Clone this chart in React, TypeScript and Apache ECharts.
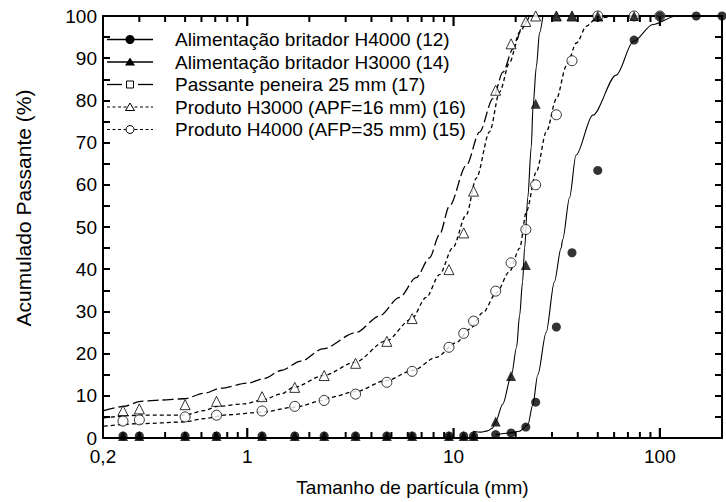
import React, { useEffect, useRef } from "react";
import * as echarts from "echarts";

const FONT = "'Liberation Sans', Arial, Helvetica, sans-serif";

const sieveSizes = [0.25, 0.3, 0.5, 0.71, 1.18, 1.7, 2.36, 3.35, 4.75, 6.3, 9.5, 11.2, 12.5, 16, 19, 22.4, 25, 31.5, 37.5, 50, 75, 100, 150, 200];

const seriesNames = [
  "Alimentação britador H4000 (12)",
  "Alimentação britador H3000 (14)",
  "Passante peneira 25 mm (17)",
  "Produto H3000 (APF=16 mm) (16)",
  "Produto H4000 (AFP=35 mm) (15)",
];

const feedH4000 = [0.5, 0.5, 0.5, 0.5, 0.5, 0.5, 0.5, 0.5, 0.5, 0.5, 0.5, 0.5, 0.5, 0.8, 1.2, 2.6, 8.5, 26.3, 43.9, 63.4, 94.3, 100, 100, 100];
const feedH3000 = [0.5, 0.5, 0.5, 0.5, 0.5, 0.5, 0.5, 0.5, 0.5, 0.5, 0.5, 0.5, 0.5, 3.9, 14.7, 41.0, 79.2, 100, 100, 100, 100];
const prodH3000 = [6.5, 6.9, 7.9, 8.7, 9.8, 12.0, 14.8, 17.7, 22.9, 28.3, 39.9, 48.6, 58.5, 82.4, 93.4, 98.7, 100, 100, 100, 100];
const prodH4000 = [4.0, 4.3, 5.0, 5.4, 6.4, 7.5, 8.9, 10.4, 13.2, 15.8, 21.5, 24.8, 27.7, 34.8, 41.5, 49.4, 60.0, 76.6, 89.4, 100, 100, 100];

const fitFeedH4000X = [16.0, 18.6, 20.8, 22.9, 24.2, 25.6, 28.1, 30.8, 33.2, 33.8, 36.5, 39.2, 47.3, 61.4, 74.5, 92.5, 120, 156];
const fitFeedH4000Y = [0.8, 1.2, 1.6, 3.1, 7.8, 15, 25, 37, 45, 47, 57, 67, 76.5, 86, 94, 98, 100, 100];

const fitFeedH3000X = [12.4, 13.6, 14.6, 15.5, 16.0, 17.3, 19.1, 20.2, 20.9, 21.6, 22.1, 22.9, 23.8, 24.3, 25.2, 26.1, 27.1];
const fitFeedH3000Y = [1.6, 1.4, 1.7, 2.4, 3.9, 8, 15, 21.5, 29, 37, 45, 57, 69, 79, 88, 96, 100];

const fitPassanteX = [0.202, 0.253, 0.305, 0.381, 0.495, 0.618, 0.745, 1.003, 1.209, 1.458, 1.823, 2.32, 3.37, 4.37, 5.47, 6.59, 7.65, 8.55, 9.56, 11.53, 13.37, 15.51, 17.35, 19.41, 21.7, 23.39];
const fitPassanteY = [6.5, 7.5, 8.7, 9.0, 9.3, 10.6, 11.8, 13.0, 14.1, 16, 18.2, 21.1, 25, 28.9, 33.3, 38, 42.7, 48.2, 55, 64.6, 72.5, 80.4, 86.7, 92.2, 97.7, 100];

const fitProdH3000X = [0.202, 0.305, 0.495, 0.618, 0.718, 0.967, 1.166, 1.458, 1.678, 2.346, 3.307, 4.713, 6.233, 7.37, 8.551, 9.888, 11.53, 12.89, 14.96, 16.72, 18.7, 20.91, 22.95];
const fitProdH3000Y = [4.8, 5.4, 5.4, 6.5, 7.5, 8.1, 8.9, 10.4, 12, 14.8, 17.9, 23, 28.1, 33.3, 38.7, 45, 52.9, 61.6, 72.6, 82, 89, 96.2, 100];

const fitProdH4000X = [0.202, 0.305, 0.495, 0.618, 0.802, 1.166, 1.691, 2.346, 2.501, 3.345, 4.713, 6.345, 8.241, 10.31, 11.96, 13.88, 16.12, 18.7, 20.91, 22.54, 25.2, 28.18, 31.52, 35.25, 39.41, 44.09, 49.29, 60.47];
const fitProdH4000Y = [2.8, 3.4, 3.8, 4.6, 5.5, 6.1, 7.3, 8.9, 9.6, 11, 13.6, 16, 19.1, 22.6, 25.8, 29.7, 34.4, 39.5, 45, 53.7, 63.1, 72.6, 80.4, 88.2, 93.6, 97.6, 99.5, 100];

const xMajorTicks = [1, 10, 100];
const xMinorTicks = [0.3, 0.4, 0.5, 0.6, 0.7, 0.8, 0.9, 2, 3, 4, 5, 6, 7, 8, 9, 20, 30, 40, 50, 60, 70, 80, 90];
const xLabelValues = [0.2, 1, 10, 100];
const yTicks = [5, 10, 15, 20, 25, 30, 35, 40, 45, 50, 55, 60, 65, 70, 75, 80, 85, 90, 95];

const X_MIN = 0.2;
const X_MAX = 200;
const Y_MIN = 0;
const Y_MAX = 100;

const pairs = (xs: number[], ys: number[]) => ys.map((y, i) => [xs[i], y]);

function makeXAxis(position: "top" | "bottom", showLabel: boolean): any {
  return {
    type: "log",
    logBase: 10,
    min: X_MIN,
    max: X_MAX,
    position,
    axisLine: { show: true, onZero: false, lineStyle: { color: "#000", width: 2 } },
    axisTick: { show: false },
    minorTick: { show: false },
    axisLabel: showLabel
      ? {
          show: true,
          customValues: xLabelValues,
          formatter: (v: number) => (Math.abs(v - 0.2) < 1e-6 ? "0,2" : String(Math.round(v))),
          fontSize: 19,
          fontFamily: FONT,
          color: "#000",
          margin: 9,
        }
      : { show: false },
    splitLine: { show: false },
    minorSplitLine: { show: false },
  };
}

function makeYAxis(position: "left" | "right", showLabel: boolean): any {
  return {
    type: "value",
    min: Y_MIN,
    max: Y_MAX,
    interval: 10,
    position,
    axisLine: { show: true, onZero: false, lineStyle: { color: "#000", width: 2 } },
    axisTick: { show: true, inside: true, length: 7, lineStyle: { color: "#000", width: 2 } },
    minorTick: { show: true, splitNumber: 2, length: 7, lineStyle: { color: "#000", width: 2 } },
    axisLabel: showLabel
      ? { show: true, fontSize: 19, fontFamily: FONT, color: "#000", margin: 6, padding: [7, 0, 0, 0] }
      : { show: false },
    splitLine: { show: false },
  };
}

function legendGraphics(): any[] {
  const els: any[] = [];
  const x1 = 107, x2 = 153, cx = 130, tx = 175;
  seriesNames.forEach((name, i) => {
    const y = 39.5 + i * 22.5;
    if (i === 0 || i === 1) {
      els.push({ type: "line", shape: { x1, y1: y, x2, y2: y }, style: { stroke: "#000", lineWidth: 1.3 } });
    } else if (i === 2) {
      els.push({ type: "line", shape: { x1, y1: y, x2: 122, y2: y }, style: { stroke: "#000", lineWidth: 1.3 } });
      els.push({ type: "line", shape: { x1: 138, y1: y, x2, y2: y }, style: { stroke: "#000", lineWidth: 1.3 } });
    } else {
      els.push({ type: "line", shape: { x1, y1: y, x2, y2: y }, style: { stroke: "#000", lineWidth: 1.2, lineDash: [3, 2.5] } });
    }
    if (i === 0) {
      els.push({ type: "circle", shape: { cx, cy: y, r: 4.5 }, style: { fill: "#000" } });
    } else if (i === 1) {
      els.push({ type: "polygon", shape: { points: [[cx, y - 4.5], [cx - 5, y + 3.5], [cx + 5, y + 3.5]] }, style: { fill: "#000" } });
    } else if (i === 2) {
      els.push({ type: "rect", shape: { x: cx - 3.5, y: y - 3.5, width: 7, height: 7 }, style: { fill: "#fff", stroke: "#000", lineWidth: 1 } });
    } else if (i === 3) {
      els.push({ type: "polygon", shape: { points: [[cx, y - 4], [cx - 4.5, y + 3.5], [cx + 4.5, y + 3.5]] }, style: { fill: "#fff", stroke: "#000", lineWidth: 1 } });
    } else {
      els.push({ type: "circle", shape: { cx, cy: y, r: 4 }, style: { fill: "#fff", stroke: "#000", lineWidth: 1 } });
    }
    els.push({
      type: "text",
      x: tx,
      y,
      style: { text: name, fontSize: 19, fontFamily: FONT, fill: "#000", verticalAlign: "middle", textVerticalAlign: "middle" },
    });
  });
  return els;
}

const yTitleGraphic = {
  type: "text",
  x: 23,
  y: 208,
  rotation: Math.PI / 2,
  style: {
    text: "Acumulado Passante (%)",
    fontSize: 21,
    fontFamily: FONT,
    fill: "#000",
    align: "center",
    verticalAlign: "middle",
    textAlign: "center",
    textVerticalAlign: "middle",
  },
};

function tickSeries(data: number[][], size: number[], offset: number[]): any {
  return {
    type: "scatter",
    xAxisIndex: 0,
    yAxisIndex: 0,
    silent: true,
    clip: false,
    z: 6,
    symbol: "rect",
    symbolSize: size,
    symbolOffset: offset,
    itemStyle: { color: "#000", borderWidth: 0, opacity: 1 },
    data,
  };
}

export default function App() {
  const ref = useRef<HTMLDivElement>(null);

  useEffect(() => {
    if (!ref.current) return;
    const chart = echarts.init(ref.current, undefined, { renderer: "svg" });

    const scatterBase = { type: "scatter", xAxisIndex: 0, yAxisIndex: 0, z: 4, clip: false, silent: true };
    const lineBase = {
      type: "line",
      xAxisIndex: 0,
      yAxisIndex: 0,
      z: 3,
      symbol: "none",
      showSymbol: false,
      smooth: 0.3,
      smoothMonotone: "x",
      clip: false,
      silent: true,
    };

    const option: any = {
      animation: false,
      backgroundColor: "#fff",
      textStyle: { fontFamily: FONT },
      grid: { left: 103, right: 4, top: 16, bottom: 61, containLabel: false },
      xAxis: [
        { ...makeXAxis("bottom", true), name: "Tamanho de partícula (mm)", nameLocation: "middle", nameGap: 40, nameTextStyle: { fontSize: 19, fontFamily: FONT, color: "#000" } },
        makeXAxis("top", false),
      ],
      yAxis: [makeYAxis("left", true), makeYAxis("right", false)],
      graphic: [yTitleGraphic, ...legendGraphics()],
      series: [
        tickSeries(xMajorTicks.map((v) => [v, Y_MIN]), [2.2, 10], [0, -5]),
        tickSeries(xMajorTicks.map((v) => [v, Y_MAX]), [2.2, 10], [0, 5]),
        tickSeries(xMinorTicks.map((v) => [v, Y_MIN]), [2, 6], [0, -3]),
        tickSeries(xMinorTicks.map((v) => [v, Y_MAX]), [2, 6], [0, 3]),
        { ...lineBase, name: seriesNames[0] + " ajuste", data: pairs(fitFeedH4000X, fitFeedH4000Y), lineStyle: { color: "#000", width: 1.1, type: "solid" } },
        { ...lineBase, name: seriesNames[1] + " ajuste", data: pairs(fitFeedH3000X, fitFeedH3000Y), lineStyle: { color: "#000", width: 1.1, type: "solid" } },
        { ...lineBase, name: seriesNames[2], data: pairs(fitPassanteX, fitPassanteY), lineStyle: { color: "#000", width: 1.3, type: [11, 4] } },
        { ...lineBase, name: seriesNames[3] + " ajuste", data: pairs(fitProdH3000X, fitProdH3000Y), lineStyle: { color: "#000", width: 1.3, type: [4, 3] } },
        { ...lineBase, name: seriesNames[4] + " ajuste", data: pairs(fitProdH4000X, fitProdH4000Y), lineStyle: { color: "#000", width: 1.3, type: [4, 3] } },
        { ...scatterBase, name: seriesNames[3], data: pairs(sieveSizes, prodH3000), symbol: "triangle", symbolSize: 10, itemStyle: { color: "#fff", borderColor: "#000", borderWidth: 1 } },
        { ...scatterBase, name: seriesNames[4], data: pairs(sieveSizes, prodH4000), symbol: "circle", symbolSize: 10, itemStyle: { color: "#fff", borderColor: "#000", borderWidth: 1 } },
        { ...scatterBase, name: seriesNames[1], data: pairs(sieveSizes, feedH3000), symbol: "triangle", symbolSize: 10, itemStyle: { color: "#000" } },
        { ...scatterBase, name: seriesNames[0], data: pairs(sieveSizes, feedH4000), symbol: "circle", symbolSize: 9, itemStyle: { color: "#000" } },
      ],
    };

    chart.setOption(option);
    return () => chart.dispose();
  }, []);

  return <div ref={ref} style={{ width: 726, height: 502, position: "absolute", left: 0, top: 0, background: "#fff" }} />;
}
